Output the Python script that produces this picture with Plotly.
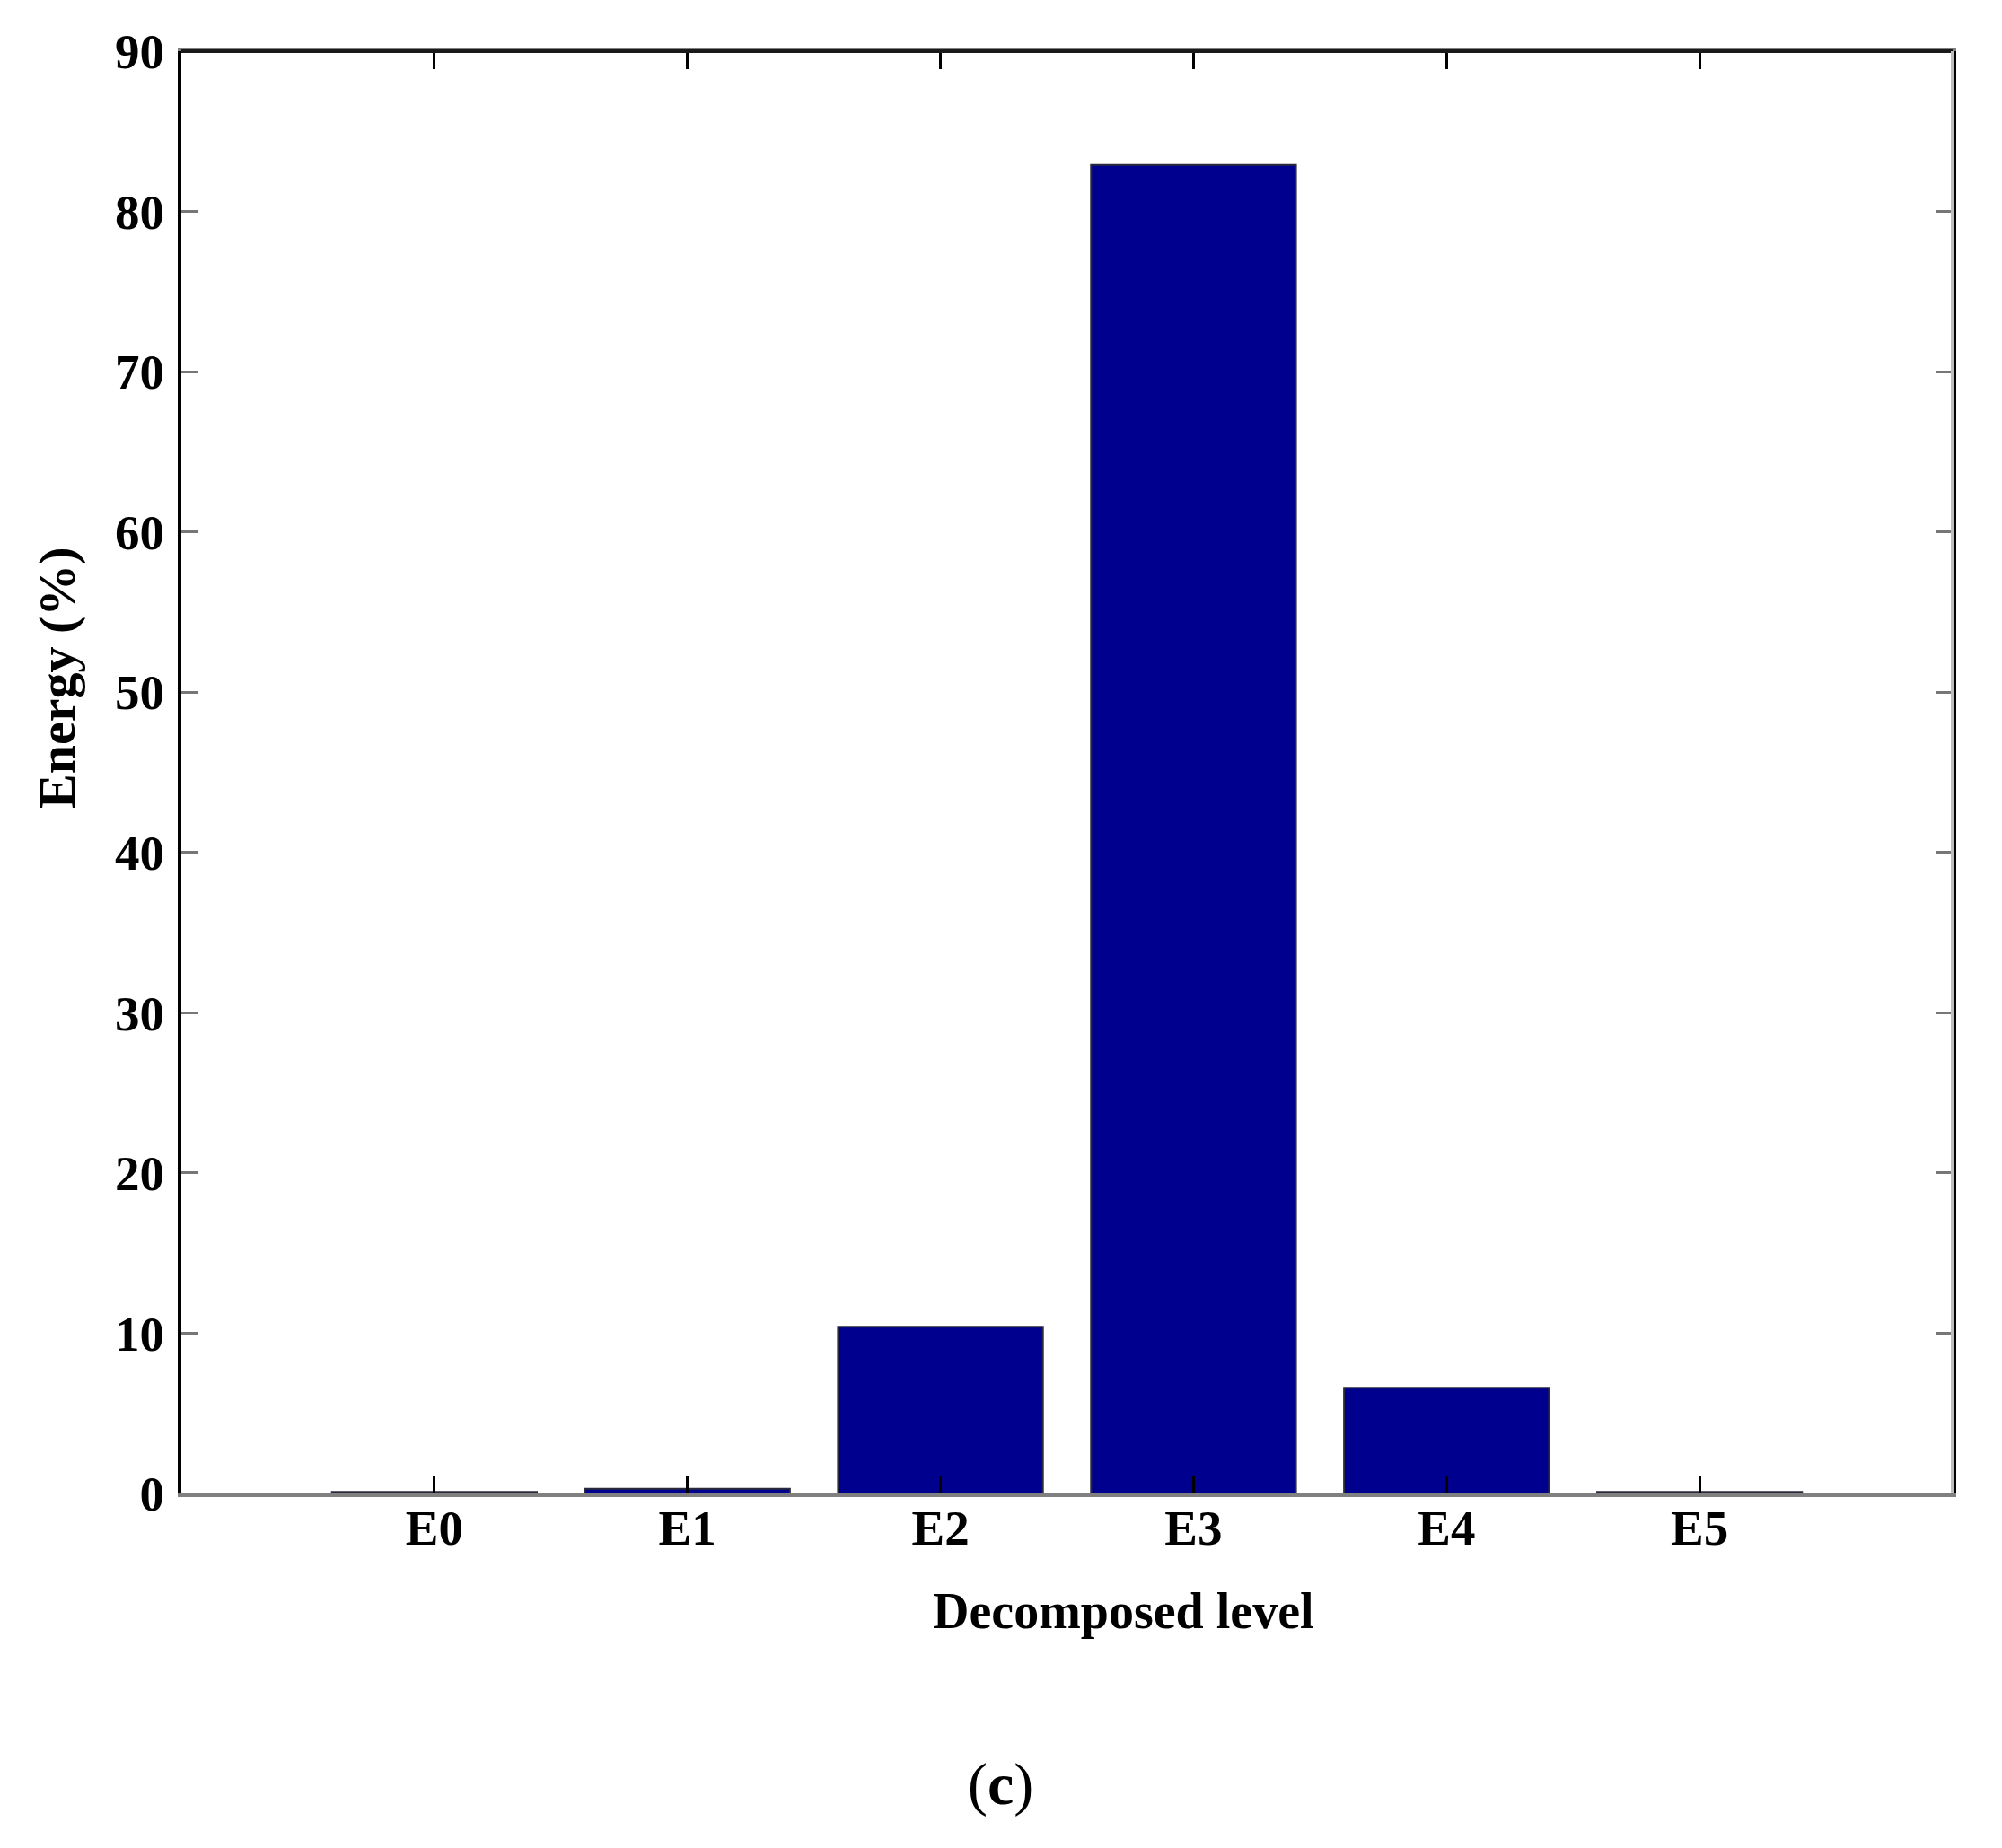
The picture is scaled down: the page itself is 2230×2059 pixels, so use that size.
import plotly.graph_objects as go

# Energy share per decomposed level
levels = ["E0", "E1", "E2", "E3", "E4", "E5"]
energy = [0.1, 0.3, 10.4, 82.9, 6.6, 0.1]
y_ticks = [0, 10, 20, 30, 40, 50, 60, 70, 80, 90]

FONT = "Liberation Serif"

# plot box in page pixels (left, right, top, bottom) as in the figure
L, R, T, B = 202, 2175, 57, 1664
PAD = 8  # page body offset

fig = go.Figure(
    go.Bar(
        x=levels,
        y=energy,
        marker=dict(color="#00008F", line=dict(color="#2a2a3a", width=2)),
        hoverinfo="x+y",
    )
)

fig.update_layout(
    width=2230,
    height=2059,
    margin=dict(l=L - PAD, r=2230 + PAD - R, t=T - PAD, b=2059 + PAD - B),
    plot_bgcolor="white",
    paper_bgcolor="white",
    bargap=0.19,
    showlegend=False,
    font=dict(family=FONT, size=54, color="black"),
)

fig.update_xaxes(
    type="category",
    range=[-1, 6],
    showgrid=False,
    zeroline=False,
    showline=True,
    linecolor="#808080",
    linewidth=4,
    mirror="ticks",
    ticks="inside",
    ticklen=20,
    tickwidth=3,
    tickcolor="black",
    ticklabelstandoff=-13,
    tickfont=dict(family=FONT, size=55, color="black", weight="bold"),
)

fig.update_yaxes(
    range=[0, 90],
    tickvals=y_ticks,
    showgrid=False,
    zeroline=False,
    showline=True,
    linecolor="black",
    linewidth=4,
    mirror="ticks",
    ticks="inside",
    ticklen=18,
    tickwidth=3,
    tickcolor="#777777",
    ticklabelstandoff=4,
    tickfont=dict(family=FONT, size=55, color="black", weight="bold"),
)

# frame edges: darker top, light grey right side as in the figure
fig.add_shape(type="line", xref="paper", yref="paper", x0=0, x1=1, y0=1, y1=1,
              line=dict(color="#1a1a1a", width=4), layer="above")
fig.add_shape(type="line", xref="paper", yref="paper", x0=1, x1=1, y0=0, y1=1,
              line=dict(color="#bdbdbd", width=4), layer="above")

fig.add_annotation(text="<b>Decomposed level</b>", xref="paper", yref="paper",
                   x=(1251 - L) / (R - L), y=-(1795 - B) / (B - T),
                   showarrow=False, xanchor="center", yanchor="middle",
                   font=dict(family=FONT, size=56, color="black"))
fig.add_annotation(text="<b>Energy (%)</b>", xref="paper", yref="paper",
                   x=-(L - 64) / (R - L), y=(B - 755) / (B - T),
                   textangle=-90, showarrow=False, xanchor="center", yanchor="middle",
                   font=dict(family=FONT, size=58, color="black"))
fig.add_annotation(text="(<b>c</b>)", xref="paper", yref="paper",
                   x=(1114 - L) / (R - L), y=-(1988 - B) / (B - T),
                   showarrow=False, xanchor="center", yanchor="middle",
                   font=dict(family=FONT, size=66, color="black"))

fig.write_html("out.html")
